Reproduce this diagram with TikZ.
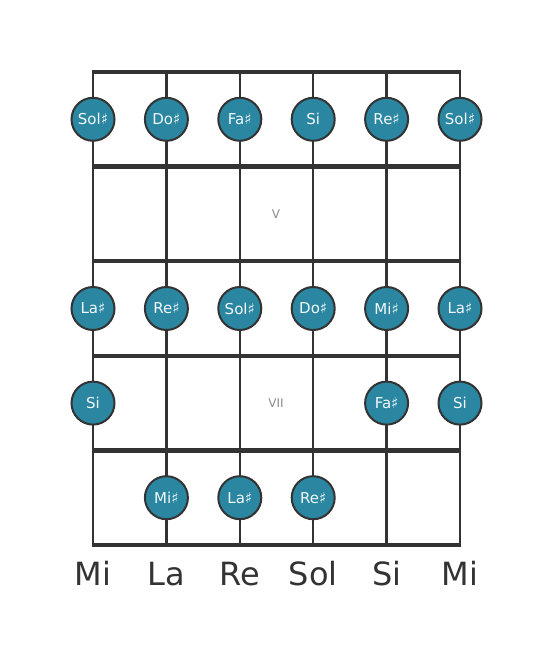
\documentclass[tikz,border=0pt]{standalone}
\usepackage{fontspec}
\setmainfont{DejaVu Sans}
\definecolor{notefill}{HTML}{2A86A1}
\definecolor{lineg}{HTML}{333333}
\definecolor{fretnum}{HTML}{8C8C8C}
\definecolor{notetext}{HTML}{F2F8FA}
\begin{document}
\begin{tikzpicture}[x=1pt,y=-1pt,
  stringline/.style={draw=lineg,line width=2.4pt},
  fretline/.style={draw=lineg,line width=4.5pt},
  note/.style={circle,fill=notefill,draw=lineg,line width=2pt,minimum size=43pt,inner sep=0pt,text=notetext,font=\fontsize{15}{15}\selectfont},
  fnum/.style={text=fretnum,font=\fontsize{12}{12}\selectfont},
  sname/.style={text=lineg,font=\fontsize{32}{32}\selectfont}]
\useasboundingbox (0,0) rectangle (553,656);
% strings
\foreach \i/\x in {1/93,2/166.4,3/239.8,4/313.2,5/386.6,6/460}{
  \coordinate (st\i) at (\x,72);
  \coordinate (sb\i) at (\x,545);
  \draw[stringline] (st\i) -- (sb\i);
}
% frets
\foreach \j/\y in {0/72,1/166.6,2/261.2,3/355.8,4/450.4,5/545}{
  \coordinate (fl\j) at (91.8,\y);
  \coordinate (fr\j) at (461.2,\y);
  \draw[fretline] (fl\j) -- (fr\j);
}
\node[fnum] (v) at (276,214) {V};
\node[fnum] (vii) at (276,403.5) {VII};
% notes
\foreach \n/\x/\y/\t in {
 a1/93/119.3/Sol♯, a2/166.4/119.3/Do♯, a3/239.8/119.3/Fa♯, a4/313.2/119.3/Si, a5/386.6/119.3/Re♯, a6/460/119.3/Sol♯,
 b1/93/308.5/La♯, b2/166.4/308.5/Re♯, b3/239.8/308.5/Sol♯, b4/313.2/308.5/Do♯, b5/386.6/308.5/Mi♯, b6/460/308.5/La♯,
 c1/93/403.1/Si, c5/386.6/403.1/Fa♯, c6/460/403.1/Si,
 d2/166.4/497.7/Mi♯, d3/239.8/497.7/La♯, d4/313.2/497.7/Re♯}{
  \node[note] (\n) at (\x,\y) {\t};
}
% string names
\foreach \i/\x/\t in {1/93/Mi,2/166.4/La,3/239.8/Re,4/313.2/Sol,5/386.6/Si,6/460/Mi}{
  \node[sname,anchor=base] (sn\i) at (\x,585) {\t};
}
\end{tikzpicture}
\end{document}
